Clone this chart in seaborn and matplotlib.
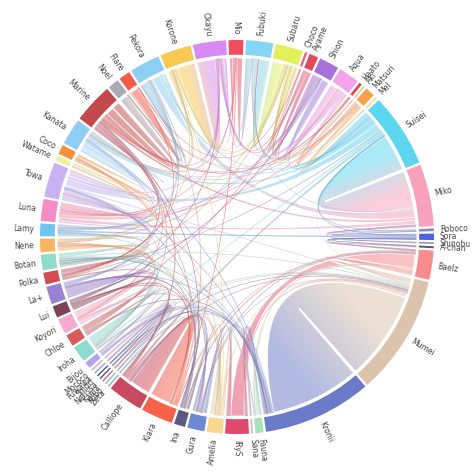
import numpy as np
import matplotlib
matplotlib.use("Agg")
import matplotlib.pyplot as plt
import seaborn as sns
from matplotlib.path import Path
from matplotlib.patches import PathPatch, Wedge
from matplotlib.colors import to_rgb

# members, counter-clockwise starting just above 3 o'clock
names = ["Miko", "Suisei", "Mel", "Matsuri", "Aki", "Haato", "Aqua", "Shion", "Ayame", "Choco",
         "Subaru", "Fubuki", "Mio", "Okayu", "Korone", "Pekora", "Flare", "Noel", "Marine", "Kanata",
         "Coco", "Watame", "Towa", "Luna", "Lamy", "Nene", "Botan", "Polka", "La+", "Lui",
         "Koyori", "Chloe", "Iroha", "Bijou", "Mococo", "Fuwawa", "Shiori", "Nerissa", "Kaela", "Kobo",
         "Zeta", "Calliope", "Kiara", "Ina", "Gura", "Amelia", "IRyS", "Sana", "Fauna", "Kronii",
         "Mumei", "Baelz", "A-chan", "Shinobu", "Sora", "Roboco"]

colors = ["#f7a1bb", "#5dd6f0", "#f6e49a", "#f9a04a", "#f4c28a", "#e2404e", "#f5a3ea", "#a673dc", "#e14a5c", "#e7657a",
          "#e3f05c", "#84d6f4", "#f04e5c", "#d98af2", "#f8c850", "#8ccef4", "#f45c48", "#aaaab2", "#c34a4c", "#90cdf4",
          "#f5913a", "#f4f09c", "#c8b2f4", "#f58dc4", "#6fc6f0", "#f9b462", "#90dcc8", "#d24a52", "#9a80d2", "#7c4256",
          "#f8aad0", "#d45c5a", "#8cdcd2", "#b4a4ec", "#f0a8c8", "#8ab4f0", "#505070", "#3a4a9a", "#e06060", "#7ab8e8",
          "#a0a0a8", "#c84a5e", "#f8624a", "#5c5a80", "#6c8ad2", "#f6d88e", "#e04a6c", "#e8b0c0", "#a6e2b8", "#6a7ac8",
          "#dcc4ac", "#f98c8c", "#5a5a70", "#7a7a98", "#4a62e0", "#8a8aa8"]

# collab links (member, member, amount)
links = [
    ("Miko", "Suisei", 12), ("Miko", "Luna", 1.5), ("Miko", "Pekora", 3.0), ("Miko", "Marine", 0.8),
    ("Miko", "Fubuki", 0.3), ("Miko", "Sora", 0.3), ("Miko", "Roboco", 0.3), ("Miko", "Shinobu", 0.2),
    ("Suisei", "Towa", 2.5), ("Suisei", "Kanata", 1.0), ("Suisei", "Aqua", 1.0), ("Suisei", "Fubuki", 0.5),
    ("Suisei", "Subaru", 0.8), ("Suisei", "Matsuri", 0.8), ("Suisei", "Calliope", 0.8), ("Suisei", "Iroha", 0.5),
    ("Suisei", "Shion", 0.4), ("Suisei", "Roboco", 0.3), ("Suisei", "Pekora", 0.3), ("Suisei", "Noel", 0.1),
    ("Suisei", "Polka", 0.2), ("Suisei", "Sora", 0.2), ("Suisei", "Mumei", 0.5),
    ("Mel", "Matsuri", 0.3), ("Mel", "Fubuki", 0.3),
    ("Matsuri", "Fubuki", 0.6), ("Matsuri", "Aqua", 0.4), ("Matsuri", "Luna", 0.4), ("Matsuri", "Noel", 0.1),
    ("Matsuri", "Kanata", 0.3),
    ("Aki", "Haato", 0.2), ("Aki", "Fubuki", 0.2),
    ("Haato", "Marine", 0.3), ("Haato", "Fubuki", 0.1), ("Haato", "Subaru", 0.2),
    ("Aqua", "Shion", 2.5), ("Aqua", "Marine", 0.5), ("Aqua", "Ayame", 0.4), ("Aqua", "Subaru", 0.4),
    ("Aqua", "Luna", 0.4), ("Aqua", "Okayu", 0.3), ("Aqua", "Kanata", 0.3),
    ("Shion", "Ayame", 1.0), ("Shion", "Subaru", 0.6), ("Shion", "Okayu", 0.4), ("Shion", "Lamy", 0.3),
    ("Shion", "Nene", 0.3), ("Shion", "Choco", 0.2), ("Shion", "Lui", 0.2),
    ("Ayame", "Subaru", 0.5), ("Ayame", "Okayu", 0.3), ("Ayame", "Koyori", 0.3), ("Ayame", "Fubuki", 0.2),
    ("Choco", "Subaru", 0.4), ("Choco", "Flare", 0.1),
    ("Subaru", "Fubuki", 3.5), ("Subaru", "Okayu", 0.5), ("Subaru", "Luna", 0.4), ("Subaru", "Korone", 0.3),
    ("Subaru", "Polka", 0.2), ("Subaru", "Pekora", 0.4),
    ("Fubuki", "Mio", 2.0), ("Fubuki", "Korone", 0.2), ("Fubuki", "Okayu", 0.2),
    ("Mio", "Okayu", 1.2), ("Mio", "Korone", 0.5), ("Mio", "Luna", 0.3), ("Mio", "Kiara", 0.2), ("Mio", "Kanata", 0.2),
    ("Okayu", "Korone", 6.0), ("Okayu", "Towa", 0.3), ("Okayu", "Marine", 0.3), ("Okayu", "Lui", 0.3),
    ("Korone", "Pekora", 1.2), ("Korone", "Marine", 0.3), ("Korone", "Nene", 0.3), ("Korone", "Kanata", 0.2),
    ("Korone", "Amelia", 0.2),
    ("Pekora", "Marine", 1.0), ("Pekora", "Noel", 0.2), ("Pekora", "Flare", 0.2), ("Pekora", "Kanata", 0.6),
    ("Pekora", "Luna", 0.5), ("Pekora", "Nene", 0.4), ("Pekora", "Lamy", 0.3), ("Pekora", "Polka", 0.3),
    ("Pekora", "Kiara", 0.6),
    ("Flare", "Marine", 2.7), ("Flare", "Noel", 0.2), ("Flare", "Polka", 0.2),
    ("Noel", "Marine", 2.7),
    ("Marine", "Kanata", 0.5), ("Marine", "Towa", 0.5), ("Marine", "Luna", 0.4), ("Marine", "Polka", 0.3),
    ("Marine", "Iroha", 0.3), ("Marine", "Calliope", 0.4), ("Marine", "Ina", 0.2), ("Marine", "Koyori", 0.3),
    ("Marine", "Lamy", 0.3),
    ("Kanata", "Coco", 1.2), ("Kanata", "Towa", 1.5), ("Kanata", "Luna", 0.8), ("Kanata", "Watame", 0.5),
    ("Kanata", "Kronii", 0.3), ("Kanata", "La+", 0.4),
    ("Coco", "Watame", 0.3), ("Coco", "Towa", 0.4), ("Coco", "Luna", 0.3), ("Coco", "Kiara", 0.4), ("Coco", "Amelia", 0.2),
    ("Watame", "Towa", 0.3), ("Watame", "Luna", 0.2), ("Watame", "Lamy", 0.2),
    ("Towa", "Luna", 1.0), ("Towa", "Lamy", 0.4), ("Towa", "La+", 0.6), ("Towa", "Koyori", 0.5),
    ("Towa", "Botan", 0.5), ("Towa", "Polka", 0.4), ("Towa", "Iroha", 0.3), ("Towa", "Ina", 0.3),
    ("Towa", "Kronii", 0.3), ("Towa", "Mumei", 0.5),
    ("Luna", "Lamy", 0.3),
    ("Lamy", "Nene", 0.5), ("Lamy", "Botan", 0.5), ("Lamy", "Polka", 0.4), ("Lamy", "Fauna", 0.2), ("Lamy", "Sora", 0.4),
    ("Nene", "Botan", 0.6), ("Nene", "Polka", 0.5), ("Nene", "Iroha", 0.4), ("Nene", "Kiara", 0.4),
    ("Nene", "Koyori", 0.3), ("Nene", "Chloe", 0.3),
    ("Botan", "Polka", 0.5), ("Botan", "La+", 0.4), ("Botan", "Lui", 0.3), ("Botan", "Chloe", 0.3),
    ("Botan", "Iroha", 0.3), ("Botan", "Gura", 0.2), ("Botan", "Kronii", 0.2), ("Botan", "Mumei", 0.3),
    ("Botan", "Ina", 0.2), ("Botan", "Amelia", 0.3),
    ("Polka", "Calliope", 0.5),
    ("La+", "Lui", 0.6), ("La+", "Koyori", 0.8), ("La+", "Chloe", 0.6), ("La+", "Iroha", 0.6),
    ("La+", "Kiara", 0.3), ("La+", "Ina", 0.3), ("La+", "Kronii", 0.2), ("La+", "Bijou", 0.5),
    ("Lui", "Koyori", 0.5), ("Lui", "Chloe", 0.5), ("Lui", "Iroha", 0.5), ("Lui", "Kiara", 0.3), ("Lui", "Calliope", 0.3),
    ("Koyori", "Chloe", 0.6), ("Koyori", "Iroha", 0.6), ("Koyori", "Gura", 0.3), ("Koyori", "Amelia", 0.3),
    ("Chloe", "Iroha", 0.6), ("Chloe", "Kronii", 0.3), ("Chloe", "Bijou", 0.3),
    ("Iroha", "Mumei", 0.4), ("Iroha", "Kronii", 0.3),
    ("Bijou", "Mococo", 0.2), ("Bijou", "Kronii", 0.2), ("Bijou", "Mumei", 0.3), ("Bijou", "Fauna", 0.2), ("Bijou", "Gura", 0.2),
    ("Mococo", "Fuwawa", 0.2), ("Mococo", "Kiara", 0.1),
    ("Fuwawa", "Shiori", 0.1), ("Fuwawa", "Calliope", 0.2),
    ("Shiori", "Nerissa", 0.1), ("Shiori", "Kronii", 0.2),
    ("Nerissa", "Mumei", 0.2), ("Nerissa", "Kaela", 0.1),
    ("Kaela", "Kobo", 0.1), ("Kaela", "Gura", 0.2),
    ("Kobo", "Zeta", 0.1), ("Kobo", "Ina", 0.2),
    ("Zeta", "Kronii", 0.1), ("Zeta", "Amelia", 0.2),
    ("Calliope", "Kiara", 6.7), ("Calliope", "Gura", 0.4), ("Calliope", "Ina", 0.3), ("Calliope", "Amelia", 0.5),
    ("Calliope", "Mumei", 0.3),
    ("Ina", "Gura", 1.2), ("Ina", "Amelia", 0.3), ("Ina", "Baelz", 0.3),
    ("Gura", "Amelia", 1.5), ("Gura", "IRyS", 0.4), ("Gura", "Kronii", 0.2), ("Gura", "Mumei", 0.2), ("Gura", "Baelz", 0.3),
    ("Amelia", "IRyS", 1.0), ("Amelia", "Mumei", 0.2),
    ("IRyS", "Baelz", 4.5), ("IRyS", "Kronii", 0.4), ("IRyS", "Mumei", 0.4), ("IRyS", "Sana", 0.3),
    ("Sana", "Kronii", 0.2),
    ("Fauna", "Mumei", 1.2), ("Fauna", "Kronii", 0.4), ("Fauna", "Baelz", 0.4),
    ("Kronii", "Mumei", 29.0),
    ("Mumei", "Baelz", 2.0),
    ("Baelz", "Kiara", 0.5), ("Baelz", "Sora", 0.3), ("Baelz", "A-chan", 0.3),
    ("A-chan", "Sora", 0.3),
    ("Shinobu", "Sora", 0.2),
    ("Sora", "Roboco", 0.2),
]

sns.set_theme(style="white")

N = len(names)
idx = {n: i for i, n in enumerate(names)}
mat = np.zeros((N, N))
for a, b, v in links:
    mat[idx[a], idx[b]] += v
    mat[idx[b], idx[a]] += v
tot = mat.sum(axis=1)

gap = 0.7
start = 3.2
scale = (360 - N * gap) / tot.sum()
arcs = []
th = start
for i in range(N):
    arcs.append((th, th + tot[i] * scale))
    th += tot[i] * scale + gap

# slot each link inside its arc, nearest neighbours at the near end
sub = {}
for i in range(N):
    partners = [j for j in range(N) if mat[i, j] > 0]
    partners.sort(key=lambda j: -((j - i) % N))
    pos = arcs[i][0]
    for j in partners:
        w = mat[i, j] * scale
        sub[(i, j)] = (pos, pos + w)
        pos += w

R_OUT, R_IN, R_CH = 1.0, 0.925, 0.91


def arc_pts(t0, t1, r):
    n = max(2, int(abs(t1 - t0) / 1.0) + 2)
    ts = np.radians(np.linspace(t0, t1, n))
    return [(r * np.cos(t), r * np.sin(t)) for t in ts]


def chord_path(a1, a2, b1, b2, r):
    pa = arc_pts(a1, a2, r)
    pb = arc_pts(b1, b2, r)
    verts = list(pa)
    codes = [Path.MOVETO] + [Path.LINETO] * (len(pa) - 1)
    verts += [(0, 0), pb[0]]
    codes += [Path.CURVE3, Path.CURVE3]
    verts += pb[1:]
    codes += [Path.LINETO] * (len(pb) - 1)
    verts += [(0, 0), pa[0], pa[0]]
    codes += [Path.CURVE3, Path.CURVE3, Path.CLOSEPOLY]
    return Path(verts, codes)


fig = plt.figure(figsize=(4.74, 4.74), dpi=100)
ax = fig.add_axes([0, 0, 1, 1])

order = sorted(links, key=lambda l: -l[2])
for k, (a, b, v) in enumerate(order):
    i, j = idx[a], idx[b]
    if i > j:
        i, j = j, i
    a1, a2 = sub[(i, j)]
    b1, b2 = sub[(j, i)]
    path = chord_path(a1, a2, b1, b2, R_CH)
    ca, cb = np.array(to_rgb(colors[i])), np.array(to_rgb(colors[j]))
    z = 2 + k * 0.001
    if v >= 0.5:
        ext = path.get_extents()
        n = 64
        X, Y = np.meshgrid(np.linspace(ext.x0, ext.x1, n), np.linspace(ext.y0, ext.y1, n))
        ma, mb = np.radians((a1 + a2) / 2), np.radians((b1 + b2) / 2)
        A = np.array([R_CH * np.cos(ma), R_CH * np.sin(ma)])
        B = np.array([R_CH * np.cos(mb), R_CH * np.sin(mb)])
        d = B - A
        t = np.clip(((X - A[0]) * d[0] + (Y - A[1]) * d[1]) / (d @ d), 0, 1)[..., None]
        rgb = (1 - t) * ca + t * cb
        img = np.dstack([rgb, np.full((n, n), 0.52)])
        clip = PathPatch(path, facecolor="none", edgecolor="none")
        ax.add_patch(clip)
        im = ax.imshow(img, extent=(ext.x0, ext.x1, ext.y0, ext.y1), origin="lower",
                       interpolation="bilinear", zorder=z)
        im.set_clip_path(clip)
        if v >= 1.2:
            ax.add_patch(PathPatch(path, facecolor="none", edgecolor="white", lw=0.9, zorder=z + 0.0005))
    else:
        mix = (ca + cb) / 2
        ax.add_patch(PathPatch(path, facecolor=mix, edgecolor=mix, lw=0.25, alpha=0.45, zorder=z))

for i, name in enumerate(names):
    t0, t1 = arcs[i]
    ax.add_patch(Wedge((0, 0), R_OUT, t0, t1, width=R_OUT - R_IN, facecolor=colors[i],
                       edgecolor="none", zorder=5))
    mid = (t0 + t1) / 2
    rad = np.radians(mid)
    x, y = 1.03 * np.cos(rad), 1.03 * np.sin(rad)
    m = mid % 360
    if 90 < m < 270:
        rot, ha = m - 180, "right"
    else:
        rot, ha = (m if m <= 90 else m - 360), "left"
    ax.text(x, y, name, rotation=rot, ha=ha, va="center", rotation_mode="anchor",
            fontsize=5.5, color="#444444", zorder=6)

L = 237 / 197
ax.set_xlim(-L, L)
ax.set_ylim(-L, L)
ax.set_aspect("equal")
ax.axis("off")
fig.savefig("out.png", dpi=100)
